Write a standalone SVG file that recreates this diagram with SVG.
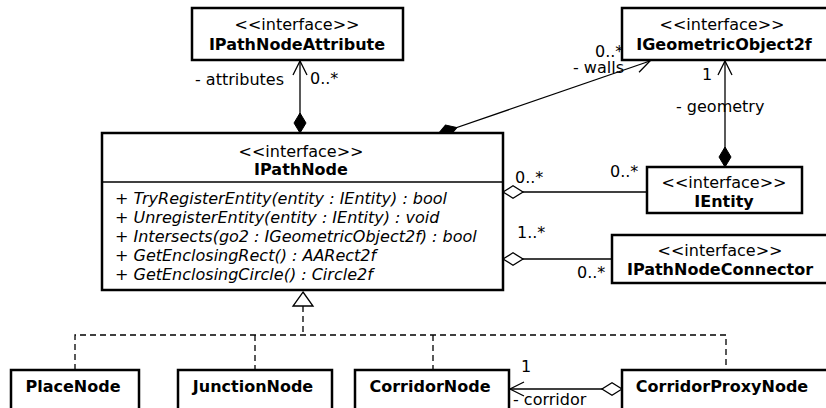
<svg xmlns="http://www.w3.org/2000/svg" width="826" height="408" viewBox="0 0 826 408">
<style>
text{font-family:"DejaVu Sans",sans-serif;font-size:16px;fill:#000}
.b{font-weight:bold}
.m{text-anchor:middle}
.i{font-style:italic}
.box{fill:#fff;stroke:#000;stroke-width:2.5}
.ln{fill:none;stroke:#000;stroke-width:1.3}
.dash{fill:none;stroke:#000;stroke-width:1.3;stroke-dasharray:6,4}
</style>
<defs>
<marker id="fd" markerUnits="userSpaceOnUse" markerWidth="22" markerHeight="14" refX="0" refY="7" orient="auto" overflow="visible">
<path d="M0,7 L10,1 L20,7 L10,13 Z" fill="#000" stroke="#000" stroke-width="1"/>
</marker>
<marker id="hd" markerUnits="userSpaceOnUse" markerWidth="22" markerHeight="14" refX="0" refY="7" orient="auto" overflow="visible">
<path d="M0,7 L10,0.8 L20,7 L10,13.2 Z" fill="#fff" stroke="#000" stroke-width="1.3"/>
</marker>
<marker id="oa" markerUnits="userSpaceOnUse" markerWidth="16" markerHeight="16" refX="14" refY="8" orient="auto" overflow="visible">
<path d="M0,1 L14,8 L0,15" fill="none" stroke="#000" stroke-width="1.3"/>
</marker>
</defs>

<g id="connectors">
<path class="ln" d="M300,133 L300,61" marker-start="url(#fd)" marker-end="url(#oa)"/>
<path class="ln" d="M438,134 L650,61" marker-start="url(#fd)" marker-end="url(#oa)"/>
<path class="ln" d="M725,167 L725,61" marker-start="url(#fd)" marker-end="url(#oa)"/>
<path class="ln" d="M503,192 L647,192" marker-start="url(#hd)"/>
<path class="ln" d="M503,259 L612,259" marker-start="url(#hd)"/>
<path class="ln" d="M622,389 L510,389" marker-start="url(#hd)" marker-end="url(#oa)"/>
<path class="dash" d="M303,306 V335 M75,370 V335 H726 V370 M255,335 V370 M433,335 V370"/>
<path d="M303,292 L313,306 L293,306 Z" fill="#fff" stroke="#000" stroke-width="1.3"/>
<text x="195" y="85">- attributes</text>
<text x="310" y="84">0..*</text>
<text x="595" y="57">0..*</text>
<text x="573" y="73">- walls</text>
<text x="702" y="80">1</text>
<text x="676" y="112">- geometry</text>
<text x="515" y="183">0..*</text>
<text x="610" y="177">0..*</text>
<text x="517" y="238">1..*</text>
<text x="577" y="278">0..*</text>
<text x="521" y="372">1</text>
<text x="513" y="405">- corridor</text>
</g>

<g id="IPathNodeAttribute">
<rect class="box" x="192" y="8" width="211" height="52"/>
<text class="m" x="297" y="30">&lt;&lt;interface&gt;&gt;</text>
<text class="m b" x="297" y="50">IPathNodeAttribute</text>
</g>

<g id="IGeometricObject2f">
<rect class="box" x="622" y="8" width="215" height="52"/>
<text class="m" x="722" y="30">&lt;&lt;interface&gt;&gt;</text>
<text class="m b" x="724" y="50">IGeometricObject2f</text>
</g>

<g id="IPathNode">
<rect class="box" x="102" y="133" width="401" height="157"/>
<line x1="102" y1="182" x2="503" y2="182" stroke="#000" stroke-width="1.3"/>
<text class="m" x="301" y="157">&lt;&lt;interface&gt;&gt;</text>
<text class="m b" x="301" y="175">IPathNode</text>
<text class="i" x="115" y="204">+ TryRegisterEntity(entity : IEntity) : bool</text>
<text class="i" x="115" y="223">+ UnregisterEntity(entity : IEntity) : void</text>
<text class="i" x="115" y="242">+ Intersects(go2 : IGeometricObject2f) : bool</text>
<text class="i" x="115" y="261">+ GetEnclosingRect() : AARect2f</text>
<text class="i" x="115" y="280">+ GetEnclosingCircle() : Circle2f</text>
</g>

<g id="IEntity">
<rect class="box" x="647" y="167" width="155" height="46"/>
<text class="m" x="724" y="188">&lt;&lt;interface&gt;&gt;</text>
<text class="m b" x="724" y="207">IEntity</text>
</g>

<g id="IPathNodeConnector">
<rect class="box" x="612" y="235" width="225" height="48"/>
<text class="m" x="720" y="256">&lt;&lt;interface&gt;&gt;</text>
<text class="m b" x="720" y="275">IPathNodeConnector</text>
</g>

<g id="PlaceNode">
<rect class="box" x="11" y="370" width="128" height="50"/>
<text class="m b" x="73" y="392">PlaceNode</text>
</g>

<g id="JunctionNode">
<rect class="box" x="178" y="370" width="154" height="50"/>
<text class="m b" x="253" y="392">JunctionNode</text>
</g>

<g id="CorridorNode">
<rect class="box" x="355" y="370" width="154" height="50"/>
<text class="m b" x="430" y="392">CorridorNode</text>
</g>

<g id="CorridorProxyNode">
<rect class="box" x="622" y="370" width="215" height="50"/>
<text class="m b" x="722" y="392">CorridorProxyNode</text>
</g>
</svg>
